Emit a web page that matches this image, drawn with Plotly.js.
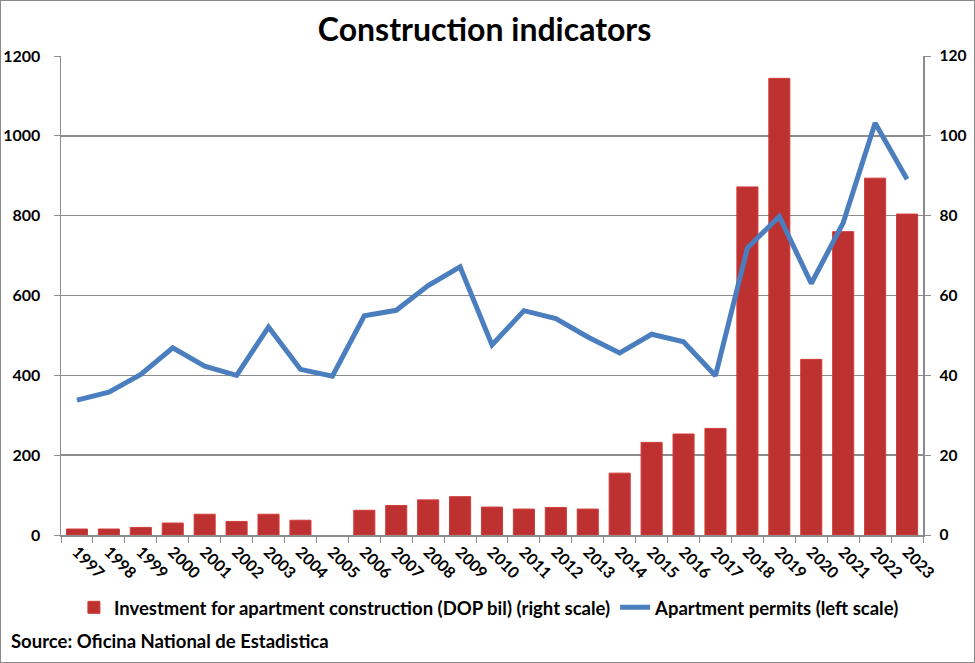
<!DOCTYPE html>
<html>
<head>
<meta charset="utf-8">
<script src="https://cdn.plot.ly/plotly-3.0.1.min.js"></script>
<style>
  body { margin: 0; background: #fff; }
  #wrap { position: relative; width: 975px; height: 663px; }
  #chart { width: 975px; height: 663px; }
  #frame {
    position: absolute; left: 0; top: 0; width: 975px; height: 663px;
    box-sizing: border-box; border: 1px solid #8a8a8a; pointer-events: none;
  }
</style>
</head>
<body>
<div id="wrap">
  <div id="chart"></div>
  <div id="frame"></div>
</div>
<script>
// chart data
const years = [
  "1997", "1998", "1999", "2000", "2001", "2002", "2003", "2004", "2005",
  "2006", "2007", "2008", "2009", "2010", "2011", "2012", "2013", "2014",
  "2015", "2016", "2017", "2018", "2019", "2020", "2021", "2022", "2023",
];

// DOP bil, right scale (2005 has no bar)
const investment = [
  1.5, 1.5, 1.9, 3.0, 5.2, 3.4, 5.2, 3.7, null,
  6.2, 7.4, 8.8, 9.6, 7.0, 6.5, 6.9, 6.5, 15.5,
  23.2, 25.3, 26.7, 87.2, 114.4, 44.0, 76.0, 89.4, 80.4,
];

// apartment permits, left scale
const permits = [
  338, 358, 402, 469, 423, 400, 521, 415, 398,
  549, 563, 625, 672, 476, 562, 542, 496, 456,
  503, 484, 399, 719, 798, 630, 782, 1032, 891,
];

const leftTicks = [0, 200, 400, 600, 800, 1000, 1200];
const rightTicks = [0, 20, 40, 60, 80, 100, 120];

const fontFamily = "Lato, 'Open Sans', sans-serif";
const grey = "#8c8c8c";

const bars = {
  type: "bar",
  name: "Investment for apartment construction (DOP bil) (right scale)",
  x: years,
  y: investment,
  yaxis: "y",
  marker: {
    color: "#bd3131",
    line: { color: "#d23c3a", width: 1 },
  },
};

const line = {
  type: "scatter",
  mode: "lines",
  name: "Apartment permits (left scale)",
  x: years,
  y: permits,
  yaxis: "y2",
  line: { color: "#4a7ebf", width: 5 },
};

const tickFont = { family: fontFamily, size: 16, color: "#000", weight: "bold" };

const layout = {
  width: 975,
  height: 663,
  margin: { l: 61, r: 52, t: 56, b: 128 },
  paper_bgcolor: "#fff",
  plot_bgcolor: "#fff",
  bargap: 0.34,
  font: { family: fontFamily, color: "#000" },
  title: {
    text: "Construction indicators",
    font: { family: fontFamily, size: 32, color: "#000", weight: "bold" },
    x: 0.497,
    xanchor: "center",
    y: 0.955,
    yanchor: "middle",
  },
  xaxis: {
    type: "category",
    tickangle: 45,
    tickson: "boundaries",
    ticks: "outside",
    ticklen: 6,
    tickcolor: grey,
    showline: true,
    linecolor: grey,
    linewidth: 1.5,
    showgrid: false,
    tickfont: tickFont,
  },
  yaxis: {
    side: "right",
    range: [0, 120],
    tickvals: rightTicks,
    ticks: "outside",
    ticklen: 6,
    tickcolor: grey,
    showline: true,
    linecolor: grey,
    linewidth: 1.5,
    showgrid: true,
    gridcolor: grey,
    gridwidth: 1.5,
    zeroline: false,
    ticklabelstandoff: 6,
    tickfont: { ...tickFont, size: 15.5 },
  },
  yaxis2: {
    overlaying: "y",
    side: "left",
    range: [0, 1200],
    tickvals: leftTicks,
    ticks: "outside",
    ticklen: 6,
    tickcolor: grey,
    showline: true,
    linecolor: grey,
    linewidth: 1.5,
    showgrid: false,
    zeroline: false,
    ticklabelstandoff: 10,
    tickfont: tickFont,
  },
  showlegend: true,
  legend: {
    orientation: "h",
    x: 0.497,
    xanchor: "center",
    y: -0.152,
    yanchor: "middle",
    font: { family: fontFamily, size: 18.5, color: "#000", weight: "bold" },
    traceorder: "normal",
  },
  annotations: [
    {
      text: "Source: Oficina National de Estadistica",
      xref: "paper",
      yref: "paper",
      x: -0.06,
      y: -0.221,
      xanchor: "left",
      yanchor: "middle",
      showarrow: false,
      font: { family: fontFamily, size: 18.5, color: "#000", weight: "bold" },
    },
  ],
};

Plotly.newPlot("chart", [bars, line], layout, { displayModeBar: false, staticPlot: true });
</script>
</body>
</html>
